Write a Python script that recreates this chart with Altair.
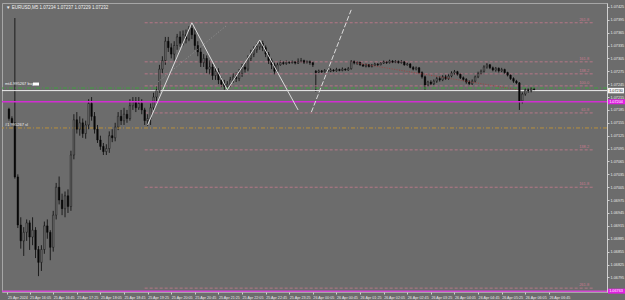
import altair as alt
import pandas as pd

# ---------------- data (EURUSD M5) ----------------
opens = [1.07187, 1.07165, 1.07155, 1.07029, 1.06917, 1.06880, 1.06900, 1.06922, 1.06889, 1.06905,
         1.06860, 1.06830, 1.06860, 1.06915, 1.06900, 1.06865, 1.06940, 1.07005, 1.06975, 1.06955,
         1.06985, 1.06960, 1.07080, 1.07162, 1.07140, 1.07155, 1.07130, 1.07150, 1.07200, 1.07170,
         1.07140, 1.07115, 1.07100, 1.07088, 1.07095, 1.07125, 1.07120, 1.07145, 1.07170, 1.07160,
         1.07175, 1.07165, 1.07195, 1.07205, 1.07190, 1.07200, 1.07185, 1.07160, 1.07165, 1.07190,
         1.07215, 1.07230, 1.07280, 1.07300, 1.07345, 1.07330, 1.07315, 1.07335, 1.07355, 1.07340,
         1.07360, 1.07350, 1.07375, 1.07360, 1.07335, 1.07320, 1.07295, 1.07305, 1.07280, 1.07285,
         1.07265, 1.07275, 1.07255, 1.07245, 1.07240, 1.07245, 1.07255, 1.07262, 1.07258, 1.07270,
         1.07285, 1.07280, 1.07305, 1.07315, 1.07325, 1.07332, 1.07340, 1.07330, 1.07315, 1.07300,
         1.07290, 1.07275, 1.07290, 1.07295, 1.07293, 1.07296, 1.07295, 1.07297, 1.07294, 1.07298,
         1.07300, 1.07296, 1.07298, 1.07295, 1.07275, 1.07273, 1.07276, 1.07274, 1.07277, 1.07275,
         1.07278, 1.07276, 1.07279, 1.07277, 1.07280, 1.07278, 1.07281, 1.07298, 1.07294, 1.07296,
         1.07290, 1.07287, 1.07290, 1.07286, 1.07289, 1.07292, 1.07290, 1.07294, 1.07297, 1.07295,
         1.07299, 1.07296, 1.07298, 1.07295, 1.07297, 1.07290, 1.07292, 1.07284, 1.07280, 1.07283,
         1.07272, 1.07262, 1.07243, 1.07250, 1.07246, 1.07252, 1.07258, 1.07255, 1.07262, 1.07258,
         1.07264, 1.07271, 1.07274, 1.07268, 1.07260, 1.07256, 1.07250, 1.07246, 1.07252, 1.07262,
         1.07270, 1.07275, 1.07285, 1.07290, 1.07283, 1.07278, 1.07282, 1.07276, 1.07279, 1.07272,
         1.07266, 1.07258, 1.07252, 1.07248, 1.07206, 1.07222, 1.07232, 1.07229, 1.07234]
highs = [1.07190, 1.07170, 1.07399, 1.07035, 1.06935, 1.06912, 1.06930, 1.06928, 1.06935, 1.06912,
         1.06868, 1.06870, 1.06925, 1.06930, 1.06905, 1.06950, 1.07015, 1.07030, 1.06990, 1.06995,
         1.07000, 1.07090, 1.07175, 1.07180, 1.07170, 1.07165, 1.07160, 1.07210, 1.07215, 1.07180,
         1.07150, 1.07125, 1.07108, 1.07105, 1.07135, 1.07140, 1.07155, 1.07180, 1.07185, 1.07190,
         1.07185, 1.07210, 1.07215, 1.07215, 1.07215, 1.07210, 1.07190, 1.07175, 1.07200, 1.07225,
         1.07240, 1.07290, 1.07310, 1.07355, 1.07355, 1.07340, 1.07345, 1.07362, 1.07368, 1.07370,
         1.07372, 1.07380, 1.07388, 1.07372, 1.07345, 1.07330, 1.07315, 1.07312, 1.07300, 1.07292,
         1.07285, 1.07282, 1.07262, 1.07255, 1.07252, 1.07262, 1.07270, 1.07272, 1.07280, 1.07292,
         1.07295, 1.07312, 1.07325, 1.07333, 1.07340, 1.07348, 1.07346, 1.07335, 1.07320, 1.07305,
         1.07295, 1.07295, 1.07300, 1.07298, 1.07300, 1.07298, 1.07300, 1.07299, 1.07305, 1.07306,
         1.07302, 1.07300, 1.07300, 1.07297, 1.07278, 1.07279, 1.07278, 1.07280, 1.07281, 1.07282,
         1.07280, 1.07283, 1.07281, 1.07284, 1.07282, 1.07285, 1.07301, 1.07300, 1.07299, 1.07298,
         1.07292, 1.07293, 1.07292, 1.07292, 1.07295, 1.07294, 1.07297, 1.07300, 1.07299, 1.07302,
         1.07301, 1.07301, 1.07300, 1.07301, 1.07299, 1.07295, 1.07294, 1.07287, 1.07286, 1.07285,
         1.07275, 1.07265, 1.07253, 1.07254, 1.07256, 1.07262, 1.07263, 1.07266, 1.07267, 1.07268,
         1.07275, 1.07278, 1.07276, 1.07271, 1.07263, 1.07259, 1.07254, 1.07256, 1.07265, 1.07274,
         1.07279, 1.07289, 1.07294, 1.07292, 1.07286, 1.07285, 1.07284, 1.07283, 1.07281, 1.07274,
         1.07268, 1.07261, 1.07255, 1.07250, 1.07226, 1.07236, 1.07236, 1.07238, 1.07237]
lows = [1.07160, 1.07147, 1.07025, 1.06910, 1.06862, 1.06845, 1.06880, 1.06859, 1.06870, 1.06840,
        1.06798, 1.06810, 1.06850, 1.06885, 1.06835, 1.06855, 1.06930, 1.06965, 1.06940, 1.06935,
        1.06945, 1.06950, 1.07070, 1.07130, 1.07125, 1.07120, 1.07118, 1.07140, 1.07160, 1.07130,
        1.07108, 1.07092, 1.07080, 1.07080, 1.07085, 1.07110, 1.07112, 1.07138, 1.07150, 1.07150,
        1.07155, 1.07160, 1.07185, 1.07180, 1.07185, 1.07175, 1.07150, 1.07148, 1.07150, 1.07185,
        1.07205, 1.07225, 1.07270, 1.07290, 1.07320, 1.07305, 1.07300, 1.07325, 1.07332, 1.07335,
        1.07340, 1.07345, 1.07350, 1.07325, 1.07310, 1.07285, 1.07285, 1.07270, 1.07268, 1.07255,
        1.07255, 1.07245, 1.07238, 1.07232, 1.07232, 1.07238, 1.07248, 1.07250, 1.07252, 1.07262,
        1.07272, 1.07275, 1.07298, 1.07308, 1.07318, 1.07325, 1.07322, 1.07308, 1.07292, 1.07280,
        1.07268, 1.07270, 1.07288, 1.07290, 1.07290, 1.07292, 1.07293, 1.07291, 1.07292, 1.07295,
        1.07292, 1.07293, 1.07290, 1.07285, 1.07227, 1.07271, 1.07271, 1.07272, 1.07273, 1.07273,
        1.07274, 1.07274, 1.07275, 1.07275, 1.07276, 1.07276, 1.07279, 1.07291, 1.07290, 1.07288,
        1.07285, 1.07284, 1.07284, 1.07284, 1.07287, 1.07287, 1.07289, 1.07292, 1.07292, 1.07293,
        1.07294, 1.07294, 1.07293, 1.07293, 1.07288, 1.07288, 1.07282, 1.07277, 1.07277, 1.07270,
        1.07258, 1.07232, 1.07240, 1.07242, 1.07243, 1.07248, 1.07251, 1.07252, 1.07255, 1.07255,
        1.07261, 1.07267, 1.07265, 1.07257, 1.07252, 1.07246, 1.07243, 1.07243, 1.07249, 1.07259,
        1.07267, 1.07272, 1.07281, 1.07280, 1.07275, 1.07274, 1.07272, 1.07273, 1.07269, 1.07263,
        1.07255, 1.07248, 1.07245, 1.07185, 1.07200, 1.07218, 1.07225, 1.07226, 1.07229]
closes = [1.07165, 1.07155, 1.07029, 1.06917, 1.06880, 1.06900, 1.06922, 1.06889, 1.06905, 1.06860,
          1.06830, 1.06860, 1.06915, 1.06900, 1.06865, 1.06940, 1.07005, 1.06975, 1.06955, 1.06985,
          1.06960, 1.07080, 1.07162, 1.07140, 1.07155, 1.07130, 1.07150, 1.07200, 1.07170, 1.07140,
          1.07115, 1.07100, 1.07088, 1.07095, 1.07125, 1.07120, 1.07145, 1.07170, 1.07160, 1.07175,
          1.07165, 1.07195, 1.07205, 1.07190, 1.07200, 1.07185, 1.07160, 1.07165, 1.07190, 1.07215,
          1.07230, 1.07280, 1.07300, 1.07345, 1.07330, 1.07315, 1.07335, 1.07355, 1.07340, 1.07360,
          1.07350, 1.07375, 1.07360, 1.07335, 1.07320, 1.07295, 1.07305, 1.07280, 1.07285, 1.07265,
          1.07275, 1.07255, 1.07245, 1.07240, 1.07245, 1.07255, 1.07262, 1.07258, 1.07270, 1.07285,
          1.07280, 1.07305, 1.07315, 1.07325, 1.07332, 1.07340, 1.07330, 1.07315, 1.07300, 1.07290,
          1.07275, 1.07290, 1.07295, 1.07293, 1.07296, 1.07295, 1.07297, 1.07294, 1.07298, 1.07300,
          1.07296, 1.07298, 1.07295, 1.07290, 1.07272, 1.07276, 1.07274, 1.07277, 1.07275, 1.07278,
          1.07276, 1.07279, 1.07277, 1.07280, 1.07278, 1.07281, 1.07298, 1.07294, 1.07296, 1.07290,
          1.07287, 1.07290, 1.07286, 1.07289, 1.07292, 1.07290, 1.07294, 1.07297, 1.07295, 1.07299,
          1.07296, 1.07298, 1.07295, 1.07297, 1.07290, 1.07292, 1.07284, 1.07280, 1.07283, 1.07272,
          1.07262, 1.07243, 1.07250, 1.07246, 1.07252, 1.07258, 1.07255, 1.07262, 1.07258, 1.07264,
          1.07271, 1.07274, 1.07268, 1.07260, 1.07256, 1.07250, 1.07246, 1.07252, 1.07262, 1.07270,
          1.07275, 1.07285, 1.07290, 1.07283, 1.07278, 1.07282, 1.07276, 1.07279, 1.07272, 1.07266,
          1.07258, 1.07252, 1.07248, 1.07206, 1.07222, 1.07232, 1.07229, 1.07234, 1.07232]

time_labels = ["25 Apr 2024", "25 Apr 16:05", "25 Apr 16:45", "25 Apr 17:25", "25 Apr 18:05",
               "25 Apr 18:45", "25 Apr 19:25", "25 Apr 20:05", "25 Apr 20:45", "25 Apr 21:25",
               "25 Apr 22:05", "25 Apr 22:45", "25 Apr 23:25", "26 Apr 00:05", "26 Apr 00:45",
               "26 Apr 01:25", "26 Apr 02:05", "26 Apr 02:45", "26 Apr 03:25", "26 Apr 04:05",
               "26 Apr 04:45", "26 Apr 05:25", "26 Apr 06:05", "26 Apr 06:45"]
time_tick_bars = [-0.5, 7, 15, 23, 31, 39, 47, 55, 63, 71, 79, 87, 95, 103, 111, 119,
                  127, 135, 143, 151, 159, 167, 175, 183]
price_ticks = [1.06795, 1.06825, 1.06855, 1.06885, 1.06915, 1.06945, 1.06975,
               1.07005, 1.07035, 1.07065, 1.07095, 1.07125, 1.07155, 1.07185, 1.07215,
               1.07245, 1.07275, 1.07305, 1.07335, 1.07365, 1.07395, 1.07425]

fib_levels = [1.07388, 1.07297, 1.07269, 1.07241, 1.07178, 1.07092, 1.07005, 1.06770]
fib_names = ["261.8", "161.8", "138.2", "100.0", "61.8", "138.2", "161.8", "261.8"]
fib_first_bar = [46]
fib_last_bar = [198]

buy_level = [1.07236]
bid_level = [1.07230]
magenta_levels = [1.07204]
bottom_magenta_level = [1.06763]
sl_level = [1.07143]

zigzag_bars = [47, 62, 74, 85, 98]
zigzag_prices = [1.07150, 1.07388, 1.07232, 1.07348, 1.07185]
proj_bars = [102.5, 116]
proj_prices = [1.07180, 1.07418]
guide_bars = [50.5, 74]
guide_prices = [1.07250, 1.07383]
trend_bars = [118, 172.5]
trend_prices = [1.07294, 1.07232]

header_text = ["\u25bc EURUSD,M5  1.07234  1.07237  1.07229  1.07232"]
buy_text = ["mt4-995267 buy"]
sl_text = ["#1 995267 sl"]

# ---------------- styles ----------------
BG = "#6c6c6c"
PINK = "#c97a8e"
FONT = "Liberation Sans"

candles = pd.DataFrame({"bar": list(range(len(opens))), "open": opens, "high": highs,
                        "low": lows, "close": closes})

xs = alt.Scale(domain=[-2 / 3, 201], nice=False, zero=False)
ys = alt.Scale(domain=[1.06761, 1.07434], nice=False, zero=False)

labels_js = "[" + ",".join("'" + t + "'" for t in time_labels) + "]"
vals_js = "[" + ",".join(str(v) for v in time_tick_bars) + "]"

x_axis = alt.Axis(orient="bottom", values=time_tick_bars, tickCount=len(time_tick_bars) + 10,
                  labelExpr=f"{labels_js}[indexof({vals_js}, datum.value)]",
                  labelAlign="left", labelBaseline="top", labelPadding=1, tickSize=2, domain=False,
                  labelOverlap=False, labelAngle=0, title=None, labelFontSize=3.7,
                  labelFlush=False, grid=False, labelSeparation=0)
y_axis = alt.Axis(orient="right", values=price_ticks, tickCount=len(price_ticks) + 10,
                  format=".5f", tickSize=2, labelPadding=1,
                  title=None, labelFontSize=3.8, labelOverlap=False, labelFlush=False, grid=False,
                  domain=True)


def X(field):
    return alt.X(field, type="quantitative", scale=xs)


def Y(field):
    return alt.Y(field, type="quantitative", scale=ys)


wicks = alt.Chart(candles).mark_rule(color="#080808", strokeWidth=0.8).encode(
    x=alt.X("bar:Q", scale=xs, axis=x_axis),
    y=alt.Y("low:Q", scale=ys, axis=y_axis),
    y2="high:Q",
)
bodies = alt.Chart(candles).mark_bar(width=1.6, stroke="#080808", strokeWidth=0.4).encode(
    x=X("bar"), y=Y("open"), y2="close:Q",
    fill=alt.condition("datum.close >= datum.open", alt.value(BG), alt.value("#080808")),
)

fib_df = pd.DataFrame({"level": fib_levels, "name": fib_names,
                       "start": fib_first_bar * len(fib_levels), "end": fib_last_bar * len(fib_levels)})
fib_lines = alt.Chart(fib_df).mark_rule(color=PINK, strokeDash=[3, 2], strokeWidth=0.8).encode(
    x=X("start"), x2="end:Q", y=Y("level"))
fib_text = alt.Chart(fib_df).mark_text(color=PINK, fontSize=4, font=FONT, align="right", dx=-4, dy=-3).encode(
    x=X("end"), y=Y("level"), text="name:N")

green_line = alt.Chart(pd.DataFrame({"level": buy_level})).mark_rule(
    color="#3f9f3f", strokeDash=[4, 2, 1, 2], strokeWidth=1).encode(y=Y("level"))
white_line = alt.Chart(pd.DataFrame({"level": bid_level})).mark_rule(
    color="#eeeeee", strokeWidth=1).encode(y=Y("level"))
magenta_line = alt.Chart(pd.DataFrame({"level": magenta_levels})).mark_rule(
    color="#d22ed2", strokeWidth=1.5).encode(y=Y("level"))
bottom_line = alt.Chart(pd.DataFrame({"level": bottom_magenta_level})).mark_rule(
    color="#d24ad2", strokeWidth=1.5).encode(y=Y("level"))
sl_line = alt.Chart(pd.DataFrame({"level": sl_level})).mark_rule(
    color="#b8903c", strokeDash=[4, 2, 1, 2], strokeWidth=1).encode(y=Y("level"))

zig = alt.Chart(pd.DataFrame({"bar": zigzag_bars, "price": zigzag_prices})).mark_line(
    color="#dcdcdc", strokeWidth=1).encode(x=X("bar"), y=Y("price"))
proj = alt.Chart(pd.DataFrame({"bar": proj_bars, "price": proj_prices})).mark_line(
    color="#dcdcdc", strokeWidth=1, strokeDash=[5, 2]).encode(x=X("bar"), y=Y("price"))
guide = alt.Chart(pd.DataFrame({"bar": guide_bars, "price": guide_prices})).mark_line(
    color="#9a9a9a", strokeWidth=0.8, strokeDash=[1, 2]).encode(x=X("bar"), y=Y("price"))
trend = alt.Chart(pd.DataFrame({"bar": trend_bars, "price": trend_prices})).mark_line(
    color="#a83a3a", strokeWidth=0.8, strokeDash=[1, 1.5]).encode(x=X("bar"), y=Y("price"))

header = alt.Chart(pd.DataFrame({"t": header_text})).mark_text(
    color="#f2f2f2", fontSize=4.5, font=FONT, align="left", baseline="top").encode(
    x=alt.value(4), y=alt.value(2), text="t:N")
buy_label = alt.Chart(pd.DataFrame({"t": buy_text, "level": buy_level})).mark_text(
    color="#f2f2f2", fontSize=4, font=FONT, align="left", dy=-4).encode(
    x=alt.value(3), y=Y("level"), text="t:N")
buy_box = alt.Chart(pd.DataFrame({"level": buy_level})).mark_tick(
    color="#ffffff", thickness=3, size=6, yOffset=-4, opacity=1).encode(
    x=alt.value(34), y=Y("level"))
sl_label = alt.Chart(pd.DataFrame({"t": sl_text, "level": sl_level})).mark_text(
    color="#f2f2f2", fontSize=4, font=FONT, align="left", dy=-3).encode(
    x=alt.value(3), y=Y("level"), text="t:N")

# price boxes on the right axis
bid_box = alt.Chart(pd.DataFrame({"level": bid_level})).mark_tick(
    color="#f4f4f4", thickness=5.5, size=16, opacity=1).encode(x=alt.value(614), y=Y("level"))
bid_txt = alt.Chart(pd.DataFrame({"level": bid_level})).mark_text(
    color="#222222", fontSize=3.8, font=FONT).encode(
    x=alt.value(614), y=Y("level"), text=alt.Text("level:Q", format=".5f"))
mag_box = alt.Chart(pd.DataFrame({"level": magenta_levels + bottom_magenta_level})).mark_tick(
    color="#e020e0", thickness=5, size=17, opacity=1).encode(x=alt.value(614.5), y=Y("level"))
mag_txt = alt.Chart(pd.DataFrame({"level": magenta_levels + bottom_magenta_level})).mark_text(
    color="#ffffff", fontSize=3.8, font=FONT).encode(
    x=alt.value(614), y=Y("level"), text=alt.Text("level:Q", format=".5f"))

chart = alt.layer(
    wicks, fib_lines, green_line, white_line, sl_line, bottom_line,
    bodies, magenta_line,
    guide, trend, zig, proj, fib_text,
    header, buy_label, buy_box, sl_label,
    bid_box, bid_txt, mag_box, mag_txt,
).properties(
    width=605, height=289, autosize="none",
    padding={"left": 2, "top": 3, "right": 18, "bottom": 8},
).configure(background=BG).configure_view(
    stroke="#a6a6a6", strokeWidth=1
).configure_axis(
    grid=False, labelColor="#e8e8e8", tickColor="#d0d0d0", domainColor="#d0d0d0",
    labelFont=FONT, labelOverlap=False,
)

chart.save("out.html", embed_options={"renderer": "svg", "actions": False})
